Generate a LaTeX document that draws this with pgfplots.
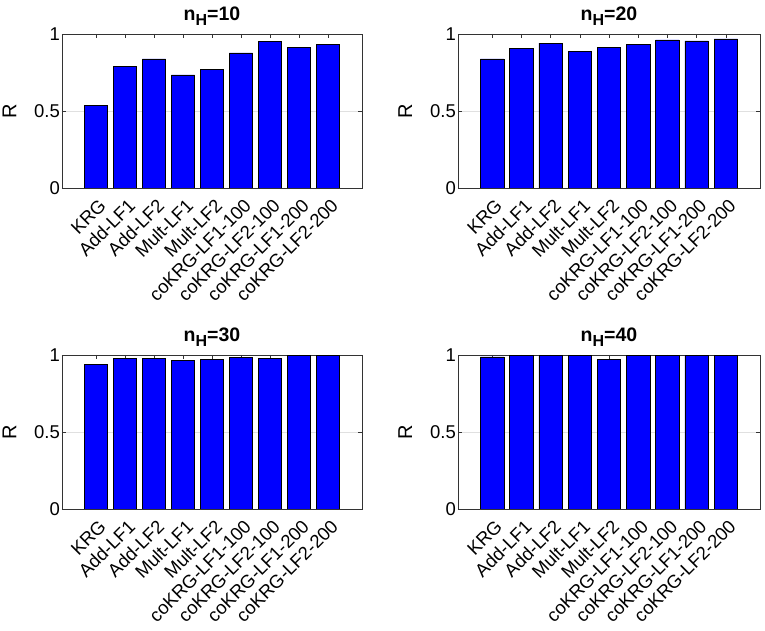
\documentclass[border=0pt]{standalone}
\usepackage{fontspec}
\setmainfont{Liberation Sans}
\usepackage{pgfplots}
\pgfplotsset{compat=1.18}
\definecolor{barblue}{RGB}{0,0,255}
\newcommand{\ttl}[1]{\fontsize{19.5}{22}\selectfont\bfseries n\raisebox{-0.55ex}{\fontsize{16}{16}\selectfont H}=#1}
\pgfplotsset{
  panel/.style={
    scale only axis, width=300pt, height=154pt, anchor=south west,
    ybar, bar width=0.8,
    ymin=0, ymax=1, xmin=-0.17, xmax=10.17,
    xtick={1,2,3,4,5,6,7,8,9},
    xticklabels={KRG,Add-LF1,Add-LF2,Mult-LF1,Mult-LF2,coKRG-LF1-100,coKRG-LF2-100,coKRG-LF1-200,coKRG-LF2-200},
    ytick={0,0.5,1}, yticklabels={0,0.5,1},
    ymajorgrids, grid style={black!12, line width=0.5pt},
    tick align=inside, major tick length=4pt,
    tick style={black!80, line width=0.5pt},
    axis line style={black!80, line width=0.6pt},
    xticklabel style={xshift=2pt, yshift=-8pt, rotate=45, anchor=north east, inner sep=1pt, font=\fontsize{18.5}{19}\selectfont},
    yticklabel style={font=\fontsize{18.5}{20}\selectfont, inner sep=2pt},
    ylabel={R},
    ylabel style={at={(axis description cs:-0.175,0.5)}, anchor=center, rotate=0, font=\fontsize{20}{22}\selectfont},
    title style={at={(axis description cs:0.5,1)}, anchor=south, yshift=0pt, inner sep=2pt},
  },
  bars/.style={fill=barblue, draw=black, line width=0.5pt},
}
\begin{document}
\begin{tikzpicture}
\useasboundingbox (0pt,0pt) rectangle (765pt,631pt);
\begin{axis}[panel, at={(62pt,443pt)}, title={\ttl{10}}]
\addplot[bars] coordinates {(1,0.538) (2,0.791) (3,0.839) (4,0.735) (5,0.772) (6,0.877) (7,0.953) (8,0.914) (9,0.931)};
\end{axis}
\begin{axis}[panel, at={(458pt,443pt)}, width=302pt, title={\ttl{20}}]
\addplot[bars] coordinates {(1,0.839) (2,0.908) (3,0.940) (4,0.888) (5,0.914) (6,0.933) (7,0.961) (8,0.955) (9,0.968)};
\end{axis}
\begin{axis}[panel, at={(62pt,122pt)}, title={\ttl{30}}]
\addplot[bars] coordinates {(1,0.941) (2,0.978) (3,0.980) (4,0.963) (5,0.972) (6,0.985) (7,0.978) (8,0.998) (9,0.996)};
\end{axis}
\begin{axis}[panel, at={(458pt,122pt)}, width=302pt, title={\ttl{40}}]
\addplot[bars] coordinates {(1,0.987) (2,0.998) (3,0.998) (4,0.998) (5,0.970) (6,0.998) (7,0.998) (8,0.999) (9,0.999)};
\end{axis}
\end{tikzpicture}
\end{document}
